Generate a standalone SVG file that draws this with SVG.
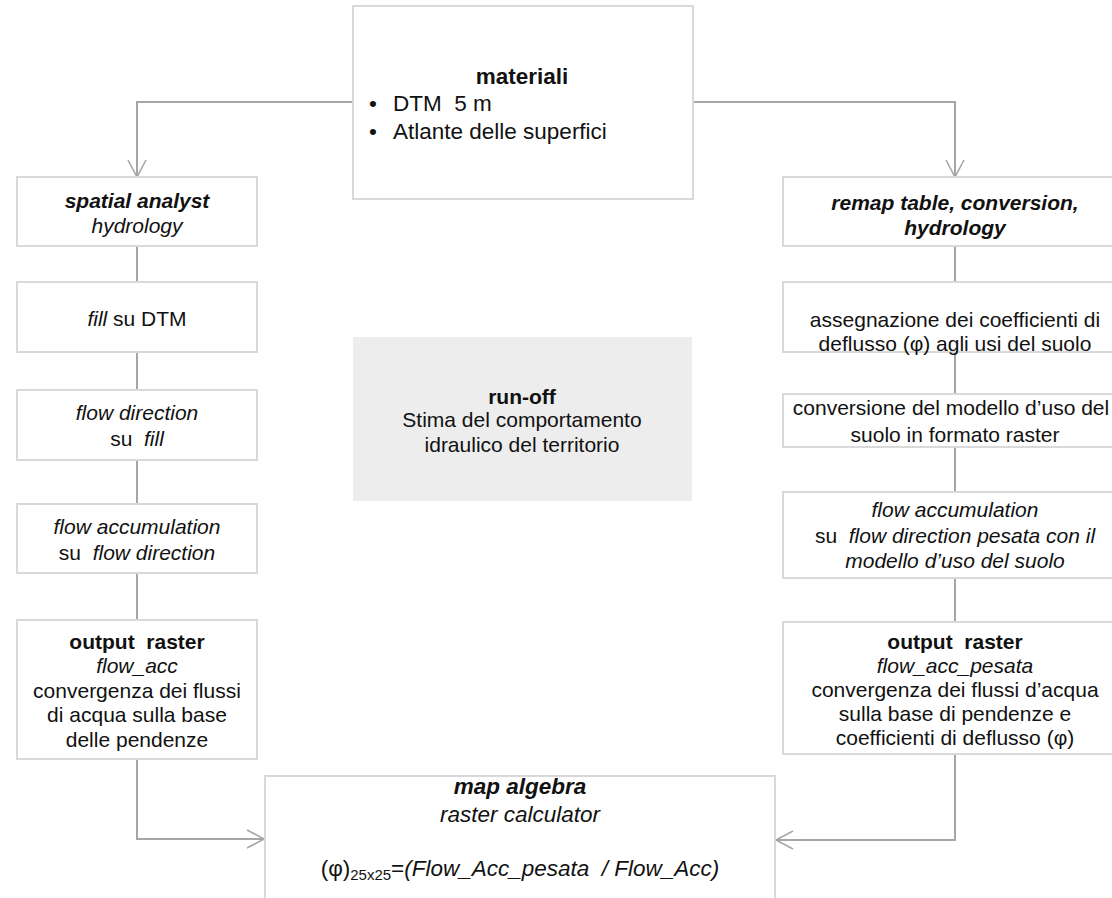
<svg xmlns="http://www.w3.org/2000/svg" width="1112" height="898" viewBox="0 0 1112 898">
<style>
text{font-family:"Liberation Sans",Arial,sans-serif;font-size:21px;fill:#111;text-anchor:middle;white-space:pre}
.b{font-weight:bold}
.i{font-style:italic}
.bi{font-weight:bold;font-style:italic}
.big{font-size:22.5px}
.l{text-anchor:start}
.box{fill:#fff;stroke:#d9d9d9;stroke-width:2}
.grey{fill:#ededed;stroke:none}
.c{fill:none;stroke:#a6a6a6;stroke-width:2}
</style>
<defs>
<marker id="arr" viewBox="-20 -11 22 22" refX="0" refY="0" markerWidth="22" markerHeight="22" markerUnits="userSpaceOnUse" orient="auto">
<path d="M-17,-9 L0,0 L-17,9" fill="none" stroke="#a6a6a6" stroke-width="1.6"/>
</marker>
</defs>
<g id="connectors">
<path class="c" d="M353,102 H137 V177" marker-end="url(#arr)"/>
<path class="c" d="M693,102 H955 V177" marker-end="url(#arr)"/>
<path class="c" d="M137,246 V282 M137,352 V390 M137,460 V504 M137,573 V620"/>
<path class="c" d="M955,246 V282 M955,352 V394 M955,447 V492 M955,578 V622"/>
<path class="c" d="M137,759 V839 H264" marker-end="url(#arr)"/>
<path class="c" d="M955,754 V840 H776" marker-end="url(#arr)"/>
</g>
<g id="materiali">
<rect class="box" x="353" y="6" width="340" height="193"/>
<text class="b big" x="522" y="84">materiali</text>
<text class="big l" x="369" y="111">•</text>
<text class="big l" x="393" y="111">DTM  5 m</text>
<text class="big l" x="369" y="139">•</text>
<text class="big l" x="393" y="139">Atlante delle superfici</text>
</g>
<g id="runoff">
<rect class="grey" x="353" y="337" width="339" height="164"/>
<text class="b" x="522" y="404">run-off</text>
<text x="522" y="427">Stima del comportamento</text>
<text x="522" y="452">idraulico del territorio</text>
</g>
<g id="spatial">
<rect class="box" x="17" y="177" width="240" height="69"/>
<text class="bi" x="137" y="208">spatial analyst</text>
<text class="i" x="137" y="233">hydrology</text>
</g>
<g id="fill">
<rect class="box" x="17" y="282" width="240" height="70"/>
<text x="137" y="326"><tspan class="i">fill</tspan> su DTM</text>
</g>
<g id="flowdir">
<rect class="box" x="17" y="390" width="240" height="70"/>
<text class="i" x="137" y="420">flow direction</text>
<text x="137" y="446">su  <tspan class="i">fill</tspan></text>
</g>
<g id="flowacc">
<rect class="box" x="17" y="504" width="240" height="69"/>
<text class="i" x="137" y="534">flow accumulation</text>
<text x="137" y="560">su  <tspan class="i">flow direction</tspan></text>
</g>
<g id="outleft">
<rect class="box" x="17" y="620" width="240" height="139"/>
<text class="b" x="137" y="649">output  raster</text>
<text class="i" x="137" y="673">flow_acc</text>
<text x="137" y="698">convergenza dei flussi</text>
<text x="137" y="722">di acqua sulla base</text>
<text x="137" y="747">delle pendenze</text>
</g>
<g id="remap">
<rect class="box" x="783" y="177" width="344" height="69"/>
<text class="bi" x="955" y="210">remap table, conversion,</text>
<text class="bi" x="955" y="235">hydrology</text>
</g>
<g id="assegnazione">
<rect class="box" x="783" y="282" width="344" height="70"/>
<text x="955" y="327">assegnazione dei coefficienti di</text>
<text x="955" y="351">deflusso (φ) agli usi del suolo</text>
</g>
<g id="conversione">
<rect class="box" x="783" y="394" width="344" height="53"/>
<text x="951" y="415">conversione del modello d’uso del</text>
<text x="955" y="442">suolo in formato raster</text>
</g>
<g id="flowaccright">
<rect class="box" x="783" y="492" width="344" height="86"/>
<text class="i" x="955" y="517">flow accumulation</text>
<text x="955" y="543">su  <tspan class="i">flow direction pesata con il</tspan></text>
<text class="i" x="955" y="568">modello d’uso del suolo</text>
</g>
<g id="outright">
<rect class="box" x="783" y="622" width="344" height="132"/>
<text class="b" x="955" y="649">output  raster</text>
<text class="i" x="955" y="673">flow_acc_pesata</text>
<text x="955" y="697">convergenza dei flussi d’acqua</text>
<text x="955" y="721">sulla base di pendenze e</text>
<text x="955" y="745">coefficienti di deflusso (φ)</text>
</g>
<g id="mapalgebra">
<rect class="box" x="265" y="776" width="510" height="130"/>
<text class="bi big" x="520" y="794">map algebra</text>
<text class="i big" x="520" y="822">raster calculator</text>
<text class="big" x="520" y="876">(φ)<tspan style="font-size:15px" dy="4">25x25</tspan><tspan dy="-4">=</tspan><tspan class="i">(Flow_Acc_pesata  / Flow_Acc)</tspan></text>
</g>
</svg>
